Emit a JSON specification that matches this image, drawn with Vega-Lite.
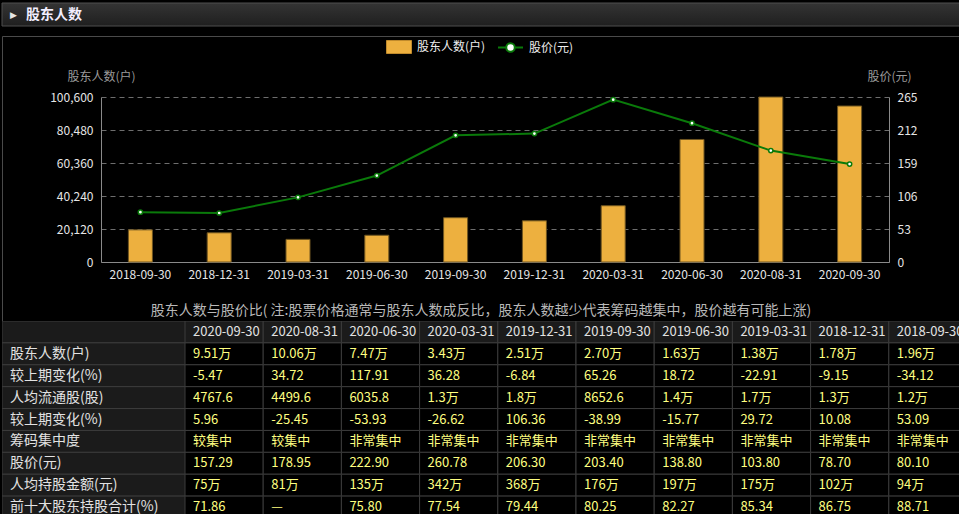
{
  "$schema": "https://vega.github.io/schema/vega-lite/v6.json",
  "background": "#000000",
  "padding": {"left": 1, "top": 2, "right": 0, "bottom": 0},
  "config": {
    "font": "Noto Sans CJK SC",
    "view": {"stroke": null},
    "title": {"font": "Noto Sans CJK SC"}
  },
  "datasets": {
    "chart": [
      {"d": "2018-09-30", "n": 19600, "p": 80.10},
      {"d": "2018-12-31", "n": 17800, "p": 78.70},
      {"d": "2019-03-31", "n": 13800, "p": 103.80},
      {"d": "2019-06-30", "n": 16300, "p": 138.80},
      {"d": "2019-09-30", "n": 27000, "p": 203.40},
      {"d": "2019-12-31", "n": 25100, "p": 206.30},
      {"d": "2020-03-31", "n": 34300, "p": 260.78},
      {"d": "2020-06-30", "n": 74700, "p": 222.90},
      {"d": "2020-08-31", "n": 100600, "p": 178.95},
      {"d": "2020-09-30", "n": 95100, "p": 157.29}
    ],
    "rows": [
      {"k": "date", "r": ""},
      {"k": "holders", "r": "股东人数(户)"},
      {"k": "holdersChg", "r": "较上期变化(%)"},
      {"k": "perShare", "r": "人均流通股(股)"},
      {"k": "perShareChg", "r": "较上期变化(%)"},
      {"k": "conc", "r": "筹码集中度"},
      {"k": "price", "r": "股价(元)"},
      {"k": "perValue", "r": "人均持股金额(元)"},
      {"k": "top10", "r": "前十大股东持股合计(%)"}
    ],
    "table": [
      {"d": "2020-09-30", "date": "2020-09-30", "holders": "9.51万", "holdersChg": "-5.47", "perShare": "4767.6", "perShareChg": "5.96", "conc": "较集中", "price": "157.29", "perValue": "75万", "top10": "71.86"},
      {"d": "2020-08-31", "date": "2020-08-31", "holders": "10.06万", "holdersChg": "34.72", "perShare": "4499.6", "perShareChg": "-25.45", "conc": "较集中", "price": "178.95", "perValue": "81万", "top10": "—"},
      {"d": "2020-06-30", "date": "2020-06-30", "holders": "7.47万", "holdersChg": "117.91", "perShare": "6035.8", "perShareChg": "-53.93", "conc": "非常集中", "price": "222.90", "perValue": "135万", "top10": "75.80"},
      {"d": "2020-03-31", "date": "2020-03-31", "holders": "3.43万", "holdersChg": "36.28", "perShare": "1.3万", "perShareChg": "-26.62", "conc": "非常集中", "price": "260.78", "perValue": "342万", "top10": "77.54"},
      {"d": "2019-12-31", "date": "2019-12-31", "holders": "2.51万", "holdersChg": "-6.84", "perShare": "1.8万", "perShareChg": "106.36", "conc": "非常集中", "price": "206.30", "perValue": "368万", "top10": "79.44"},
      {"d": "2019-09-30", "date": "2019-09-30", "holders": "2.70万", "holdersChg": "65.26", "perShare": "8652.6", "perShareChg": "-38.99", "conc": "非常集中", "price": "203.40", "perValue": "176万", "top10": "80.25"},
      {"d": "2019-06-30", "date": "2019-06-30", "holders": "1.63万", "holdersChg": "18.72", "perShare": "1.4万", "perShareChg": "-15.77", "conc": "非常集中", "price": "138.80", "perValue": "197万", "top10": "82.27"},
      {"d": "2019-03-31", "date": "2019-03-31", "holders": "1.38万", "holdersChg": "-22.91", "perShare": "1.7万", "perShareChg": "29.72", "conc": "非常集中", "price": "103.80", "perValue": "175万", "top10": "85.34"},
      {"d": "2018-12-31", "date": "2018-12-31", "holders": "1.78万", "holdersChg": "-9.15", "perShare": "1.3万", "perShareChg": "10.08", "conc": "非常集中", "price": "78.70", "perValue": "102万", "top10": "86.75"},
      {"d": "2018-09-30", "date": "2018-09-30", "holders": "1.96万", "holdersChg": "-34.12", "perShare": "1.2万", "perShareChg": "53.09", "conc": "非常集中", "price": "80.10", "perValue": "94万", "top10": "88.71"}
    ],
    "header": [{"t": "股东人数"}]
  },
  "spacing": 10,
  "bounds": "flush",
  "vconcat": [
    {
      "width": 958,
      "height": 23,
      "data": {"name": "header"},
      "layer": [
        {
          "mark": {
            "type": "rect",
            "fill": {"gradient": "linear", "x1": 0, "y1": 0, "x2": 0, "y2": 1, "stops": [{"offset": 0, "color": "#343434"}, {"offset": 1, "color": "#1f1f1f"}]},
            "stroke": "#4e4e4e",
            "strokeWidth": 1
          },
          "encoding": {
            "x": {"datum": 0, "type": "quantitative", "scale": {"domain": [0, 1]}, "axis": null},
            "x2": {"datum": 1},
            "y": {"datum": 0, "type": "quantitative", "scale": {"domain": [0, 1]}, "axis": null},
            "y2": {"datum": 1}
          }
        },
        {
          "mark": {"type": "text", "text": "▶", "align": "left", "baseline": "middle", "dx": 8, "fontSize": 9, "color": "#e6e6e6", "font": "DejaVu Sans"},
          "encoding": {
            "x": {"datum": 0, "type": "quantitative"},
            "y": {"datum": 0.5, "type": "quantitative"}
          }
        },
        {
          "mark": {"type": "text", "align": "left", "baseline": "middle", "dx": 24, "fontSize": 14, "fontWeight": "bold", "color": "#f2eeff"},
          "encoding": {
            "x": {"datum": 0, "type": "quantitative"},
            "y": {"datum": 0.5, "type": "quantitative"},
            "text": {"field": "t"}
          }
        }
      ]
    },
    {
      "spacing": 0,
      "bounds": "flush",
      "vconcat": [
        {
          "width": 957,
          "height": 285,
          "view": {"stroke": "#4a4a4a", "strokeWidth": 1},
          "data": {"name": "chart"},
          "encoding": {
            "x": {
              "field": "d",
              "type": "ordinal",
              "scale": {"range": [99, 887], "paddingInner": 0, "paddingOuter": 0},
              "axis": {
                "orient": "bottom",
                "offset": -59,
                "title": null,
                "labelAngle": 0,
                "ticks": false,
                "tickSize": 0,
                "labelPadding": 7,
                "domainColor": "#8a8a8a",
                "labelColor": "#e6e6e6",
                "labelFontSize": 12,
                "grid": false
              }
            }
          },
          "layer": [
            {
              "mark": {"type": "bar", "size": 24, "stroke": "#6f5520", "strokeWidth": 1},
              "encoding": {
                "y": {
                  "field": "n",
                  "type": "quantitative",
                  "scale": {"domain": [0, 100600], "range": [226, 61], "nice": false, "zero": true},
                  "axis": {
                    "orient": "left",
                    "offset": -99,
                    "values": [0, 20120, 40240, 60360, 80480, 100600],
                    "labelExpr": "format(datum.value, ',')",
                    "grid": true,
                    "gridDash": [5, 4],
                    "gridColor": "#6e6e6e",
                    "gridWidth": 1,
                    "domainColor": "#8a8a8a",
                    "ticks": false,
                    "tickSize": 0,
                    "labelPadding": 8,
                    "labelColor": "#e6e6e6",
                    "labelFontSize": 12,
                    "title": "股东人数(户)",
                    "titleAngle": 0,
                    "titleX": 0,
                    "titleY": 40,
                    "titleAlign": "center",
                    "titleBaseline": "middle",
                    "titleColor": "#9a9a9a",
                    "titleFontWeight": "normal",
                    "titleFontSize": 12
                  }
                },
                "fill": {
                  "datum": "股东人数(户)",
                  "type": "nominal",
                  "scale": {"domain": ["股东人数(户)"], "range": ["#EDB03F"]},
                  "legend": {
                    "title": null,
                    "orient": "none",
                    "legendX": 384,
                    "legendY": 31,
                    "direction": "horizontal",
                    "padding": 0,
                    "symbolSize": 625,
                    "symbolType": "M-1,-0.52L1,-0.52L1,0.52L-1,0.52Z",
                    "symbolStrokeWidth": 1,
                    "symbolStrokeColor": "#c08a2c",
                    "labelColor": "#eeeeee",
                    "labelFontSize": 12,
                    "labelOffset": 5
                  }
                }
              }
            },
            {
              "encoding": {
                "y": {
                  "field": "p",
                  "type": "quantitative",
                  "scale": {"domain": [0, 265], "range": [226, 61], "nice": false, "zero": true},
                  "axis": {
                    "orient": "right",
                    "offset": -70,
                    "values": [0, 53, 106, 159, 212, 265],
                    "grid": false,
                    "domainColor": "#8a8a8a",
                    "ticks": false,
                    "tickSize": 0,
                    "labelPadding": 8,
                    "labelColor": "#e6e6e6",
                    "labelFontSize": 12,
                    "title": "股价(元)",
                    "titleAngle": 0,
                    "titleX": 0,
                    "titleY": 40,
                    "titleAlign": "center",
                    "titleBaseline": "middle",
                    "titleColor": "#9a9a9a",
                    "titleFontWeight": "normal",
                    "titleFontSize": 12
                  }
                }
              },
              "layer": [
                {
                  "mark": {"type": "line", "strokeWidth": 2, "stroke": "#0a7a0a"}
                },
                {
                  "mark": {"type": "point", "filled": true, "fill": "#ffffff", "strokeWidth": 1.5, "size": 18, "opacity": 1},
                  "encoding": {
                    "stroke": {
                      "datum": "股价(元)",
                      "type": "nominal",
                      "scale": {"domain": ["股价(元)"], "range": ["#0a7a0a"]},
                      "legend": {
                        "title": null,
                        "orient": "none",
                        "legendX": 495,
                        "legendY": 31,
                        "direction": "horizontal",
                        "padding": 0,
                        "symbolSize": 625,
                        "symbolType": "M-1,0L-0.34,0M0.34,0L1,0M0.34,0A0.34,0.34,0,1,1,-0.34,0A0.34,0.34,0,1,1,0.34,0Z",
                        "symbolFillColor": "#ffffff",
                        "symbolStrokeWidth": 2,
                        "labelColor": "#eeeeee",
                        "labelFontSize": 12,
                        "labelOffset": 5
                      }
                    }
                  }
                }
              ]
            }
          ],
          "resolve": {"scale": {"y": "independent"}}
        },
        {
          "title": {
            "text": "股东人数与股价比( 注:股票价格通常与股东人数成反比，股东人数越少代表筹码越集中，股价越有可能上涨)",
            "fontSize": 14,
            "fontWeight": "normal",
            "color": "#b8b8b8",
            "anchor": "middle",
            "offset": 3
          },
          "spacing": 0,
          "bounds": "flush",
          "hconcat": [
            {
              "width": 183,
              "height": 194,
              "data": {"name": "rows"},
              "encoding": {
                "y": {
                  "field": "k",
                  "type": "nominal",
                  "sort": ["date", "holders", "holdersChg", "perShare", "perShareChg", "conc", "price", "perValue", "top10"],
                  "scale": {"range": [0, 197], "paddingInner": 0, "paddingOuter": 0},
                  "axis": null
                }
              },
              "layer": [
                {
                  "mark": {"type": "rect", "fill": "#1b1b1b", "stroke": "#3c3c3c", "strokeWidth": 1, "clip": true},
                  "encoding": {
                    "x": {"datum": 0, "type": "quantitative", "scale": {"domain": [0, 1]}, "axis": null},
                    "x2": {"datum": 1}
                  }
                },
                {
                  "mark": {"type": "text", "align": "left", "baseline": "middle", "dx": 8, "fontSize": 14, "color": "#e2e2e2", "clip": true},
                  "encoding": {
                    "x": {"datum": 0, "type": "quantitative"},
                    "text": {"field": "r"}
                  }
                }
              ]
            },
            {
              "width": 775,
              "height": 194,
              "data": {"name": "table"},
              "transform": [
                {"fold": ["date", "holders", "holdersChg", "perShare", "perShareChg", "conc", "price", "perValue", "top10"], "as": ["k", "v"]}
              ],
              "encoding": {
                "x": {
                  "field": "d",
                  "type": "nominal",
                  "sort": ["2020-09-30", "2020-08-31", "2020-06-30", "2020-03-31", "2019-12-31", "2019-09-30", "2019-06-30", "2019-03-31", "2018-12-31", "2018-09-30"],
                  "scale": {"range": [0, 782], "paddingInner": 0, "paddingOuter": 0},
                  "axis": null
                },
                "y": {
                  "field": "k",
                  "type": "nominal",
                  "sort": ["date", "holders", "holdersChg", "perShare", "perShareChg", "conc", "price", "perValue", "top10"],
                  "scale": {"range": [0, 197], "paddingInner": 0, "paddingOuter": 0},
                  "axis": null
                }
              },
              "layer": [
                {
                  "mark": {"type": "rect", "stroke": "#3c3c3c", "strokeWidth": 1, "clip": true},
                  "encoding": {
                    "fill": {"condition": {"test": "datum.k === 'date'", "value": "#1b1b1b"}, "value": "#000000"}
                  }
                },
                {
                  "mark": {"type": "text", "align": "left", "baseline": "middle", "dx": 8, "fontSize": 13, "clip": true},
                  "encoding": {
                    "x": {
                      "field": "d",
                      "type": "nominal",
                      "sort": ["2020-09-30", "2020-08-31", "2020-06-30", "2020-03-31", "2019-12-31", "2019-09-30", "2019-06-30", "2019-03-31", "2018-12-31", "2018-09-30"],
                      "bandPosition": 0
                    },
                    "text": {"field": "v"},
                    "color": {"condition": {"test": "datum.k === 'date'", "value": "#e2e2e2"}, "value": "#ffff80"}
                  }
                }
              ]
            }
          ]
        }
      ]
    }
  ]
}
